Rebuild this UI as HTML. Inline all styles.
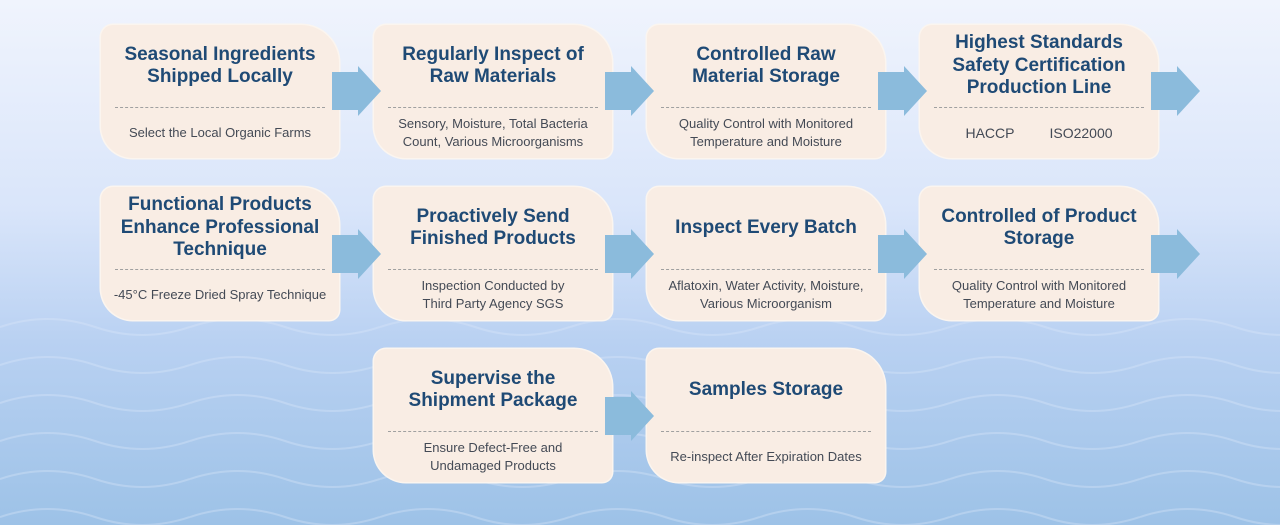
<!DOCTYPE html>
<html><head><meta charset="utf-8"><style>
body{margin:0;width:1280px;height:525px;overflow:hidden;position:relative;background:linear-gradient(#f0f4fd 0%,#d9e5fa 40%,#b9d1f2 65%,#9dc2e7 100%);font-family:"Liberation Sans",sans-serif}
.b{position:absolute;width:238px;height:133px;background:#f9ede4;border-radius:12px 38px 10px 32px;box-shadow:0 0 0 1.5px #fbf5ef}
.t{position:absolute;left:0;right:0;top:0;height:82px;display:flex;align-items:center;justify-content:center;text-align:center;font-weight:bold;font-size:19px;line-height:22.5px;color:#1f4a75}
.d{position:absolute;left:14px;right:14px;top:82px;border-top:1.5px dashed #a0a0a0}
.s{position:absolute;left:0;right:0;top:83px;height:50px;display:flex;align-items:center;justify-content:center;text-align:center;font-size:13px;line-height:18px;color:#444a55}
svg{position:absolute;left:0;top:0}
</style></head><body>
<svg width="1280" height="525">
<defs><pattern id="p" width="190" height="38" patternUnits="userSpaceOnUse" y="308">
<path d="M0 19 Q47.5 3 95 19 T190 19" fill="none" stroke="#dbe7f8" stroke-opacity="0.35" stroke-width="2"/></pattern></defs>
<rect x="0" y="300" width="1280" height="225" fill="url(#p)"/>
</svg>

<div class="b" style="left:101px;top:25px"><div class="t">Seasonal Ingredients<br>Shipped Locally</div><div class="d"></div><div class="s">Select the Local Organic Farms</div></div>
<div class="b" style="left:374px;top:25px"><div class="t">Regularly Inspect of<br>Raw Materials</div><div class="d"></div><div class="s">Sensory, Moisture, Total Bacteria<br>Count, Various Microorganisms</div></div>
<div class="b" style="left:647px;top:25px"><div class="t">Controlled Raw<br>Material Storage</div><div class="d"></div><div class="s">Quality Control with Monitored<br>Temperature and Moisture</div></div>
<div class="b" style="left:920px;top:25px"><div class="t">Highest Standards<br>Safety Certification<br>Production Line</div><div class="d"></div><div class="s" style="font-size:14px">HACCP&nbsp;&nbsp;&nbsp;&nbsp;&nbsp;&nbsp;&nbsp;&nbsp;&nbsp;ISO22000</div></div>

<div class="b" style="left:101px;top:187px"><div class="t">Functional Products<br>Enhance Professional<br>Technique</div><div class="d"></div><div class="s">-45°C Freeze Dried Spray Technique</div></div>
<div class="b" style="left:374px;top:187px"><div class="t">Proactively Send<br>Finished Products</div><div class="d"></div><div class="s">Inspection Conducted by<br>Third Party Agency SGS</div></div>
<div class="b" style="left:647px;top:187px"><div class="t">Inspect Every Batch</div><div class="d"></div><div class="s">Aflatoxin, Water Activity, Moisture,<br>Various Microorganism</div></div>
<div class="b" style="left:920px;top:187px"><div class="t">Controlled of Product<br>Storage</div><div class="d"></div><div class="s">Quality Control with Monitored<br>Temperature and Moisture</div></div>

<div class="b" style="left:374px;top:349px"><div class="t">Supervise the<br>Shipment Package</div><div class="d"></div><div class="s">Ensure Defect-Free and<br>Undamaged Products</div></div>
<div class="b" style="left:647px;top:349px"><div class="t">Samples Storage</div><div class="d"></div><div class="s">Re-inspect After Expiration Dates</div></div>

<svg width="1280" height="525">
<g fill="#8bbbdc">
<polygon points="332,72 358,72 358,66 381,91 358,116 358,110 332,110"/>
<polygon points="605,72 631,72 631,66 654,91 631,116 631,110 605,110"/>
<polygon points="878,72 904,72 904,66 927,91 904,116 904,110 878,110"/>
<polygon points="1151,72 1177,72 1177,66 1200,91 1177,116 1177,110 1151,110"/>
<polygon points="332,235 358,235 358,229 381,254 358,279 358,273 332,273"/>
<polygon points="605,235 631,235 631,229 654,254 631,279 631,273 605,273"/>
<polygon points="878,235 904,235 904,229 927,254 904,279 904,273 878,273"/>
<polygon points="1151,235 1177,235 1177,229 1200,254 1177,279 1177,273 1151,273"/>
<polygon points="605,397 631,397 631,391 654,416 631,441 631,435 605,435"/>
</g></svg>
</body></html>
